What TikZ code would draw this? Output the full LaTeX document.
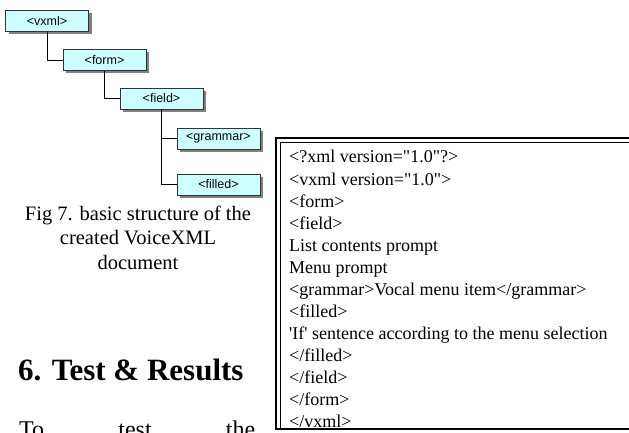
\documentclass[tikz,border=0pt]{standalone}
\usepackage{fontspec}
\setmainfont{Liberation Serif}
\setsansfont{Liberation Sans}
\usepackage{tikz}
\usetikzlibrary{shadows}
\definecolor{tagfill}{HTML}{CCFFFF}
\definecolor{tagedge}{HTML}{333333}
\tikzset{
  tagbox/.style={draw=tagedge, thin, fill=tagfill, minimum width=83pt, minimum height=21pt, inner sep=0pt,
    font=\sffamily\fontsize{12.5}{14}\selectfont,
    drop shadow={shadow xshift=3pt, shadow yshift=-3pt, fill=gray, opacity=1}},
  branch/.style={thin, black},
  plain/.style={inner sep=0pt, anchor=base west}
}
\newcommand{\dq}{\textquotedbl{}}
\begin{document}
\begin{tikzpicture}[x=1pt, y=-1pt]
      \def\capgap{24.5};
      \def\codegap{22};
      \useasboundingbox (0,0) rectangle (629,433);
      \node[tagbox] (vxml) at (47,21) {<vxml>};
      \node[tagbox] (form) at (104.5,60) {<form>};
      \node[tagbox] (field) at (161.5,98.5) {<field>};
      \node[tagbox] (grammar) at (218.5,138.5) {<grammar>};
      \node[tagbox] (filled) at (218.5,184.5) {<filled>};
      \draw[branch] (vxml.south) |- (form.west);
      \draw[branch] (form.south) |- (field.west);
      \draw[branch] (field.south) |- (grammar.west);
      \draw[branch] (field.south) |- (filled.west);
      \foreach \txt [count=\i] in {Fig 7. basic structure of the, created VoiceXML, document}
        \node[inner sep=0pt, anchor=base, font=\fontsize{20.5}{24}\selectfont] (cap\i) at (138,{220+\capgap*(\i-1)}) {\txt};
      \node[plain, font=\bfseries\fontsize{31}{35}\selectfont] (heading) at (18,380) {6. Test \& Results};
      \node[plain, text width=236pt, font=\fontsize{24}{28}\selectfont] (body) at (19,437) {To\hfill test\hfill the};
      \draw[line width=2pt] (276,429) -- (276,138) -- (640,138);
      \draw[line width=1.2pt] (280.5,429) -- (280.5,142.5) -- (640,142.5);
      \draw[line width=1.5pt] (275,429) -- (640,429);
      \foreach \txt [count=\i] in {<?xml version=\dq1.0\dq?>, <vxml version=\dq1.0\dq>, <form>, <field>, List contents prompt, Menu prompt, <grammar>Vocal menu item</grammar>, <filled>, \textquotesingle If\textquotesingle{} sentence according to the menu selection, </filled>, </field>, </form>, </vxml>}
        \node[plain, font=\fontsize{18}{22}\selectfont] (code\i) at (289,{163+\codegap*(\i-1)}) {\txt};
    \end{tikzpicture}
\end{document}
